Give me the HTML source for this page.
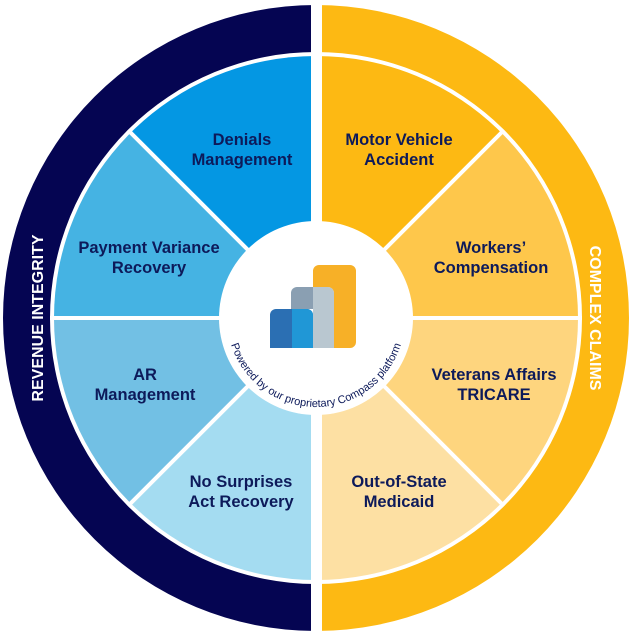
<!DOCTYPE html>
<html><head><meta charset="utf-8"><style>html,body{margin:0;padding:0;background:#fff}svg{display:block}</style></head><body>
<svg width="632" height="635" viewBox="0 0 632 635" xmlns="http://www.w3.org/2000/svg" font-family="Liberation Sans, Arial, sans-serif">
<rect width="632" height="635" fill="#fff"/>
<path d="M316,5 A313,313 0 0 0 316,631 L316,584 A266,266 0 0 1 316,52 Z" fill="#050552"/>
<path d="M316,5 A313,313 0 0 1 316,631 L316,584 A266,266 0 0 0 316,52 Z" fill="#fdb913"/>
<path d="M316,318 L316,56 A262,262 0 0 0 130.7,132.7 Z" fill="#0497e3"/>
<path d="M316,318 L130.7,132.7 A262,262 0 0 0 54,318 Z" fill="#45b3e3"/>
<path d="M316,318 L54,318 A262,262 0 0 0 130.7,503.3 Z" fill="#72c0e4"/>
<path d="M316,318 L130.7,503.3 A262,262 0 0 0 316,580 Z" fill="#a4dcf1"/>
<path d="M316,318 L316,56 A262,262 0 0 1 501.3,132.7 Z" fill="#fdb913"/>
<path d="M316,318 L501.3,132.7 A262,262 0 0 1 578,318 Z" fill="#fec74b"/>
<path d="M316,318 L578,318 A262,262 0 0 1 501.3,503.3 Z" fill="#fed57e"/>
<path d="M316,318 L501.3,503.3 A262,262 0 0 1 316,580 Z" fill="#fde0a3"/>
<rect x="311" y="0" width="11" height="635" fill="#fff"/>
<rect x="50" y="316" width="532" height="4" fill="#fff"/>
<line x1="128" y1="130" x2="504" y2="506" stroke="#fff" stroke-width="4"/>
<line x1="504" y1="130" x2="128" y2="506" stroke="#fff" stroke-width="4"/>
<circle cx="316" cy="318" r="97" fill="#fff"/>
<path d="M270,348 V315 a6,6 0 0 1 6,-6 H307 a6,6 0 0 1 6,6 V348 Z" fill="#2b6fb3"/>
<path d="M292,348 V309 H307 a6,6 0 0 1 6,6 V348 Z" fill="#2097d6"/>
<path d="M291,309 V293 a6,6 0 0 1 6,-6 H313 V309 Z" fill="#8a9fb2"/>
<path d="M313,348 V287 H328 a6,6 0 0 1 6,6 V348 Z" fill="#b9c7d0"/>
<path d="M313,287 V271 a6,6 0 0 1 6,-6 H350 a6,6 0 0 1 6,6 V342 a6,6 0 0 1 -6,6 H334 V293 a6,6 0 0 0 -6,-6 Z" fill="#f7b027"/>
<defs><path id="arc" d="M227,318 A89,89 0 0 0 405,318"/></defs>
<text font-size="11" fill="#0d1a5a"><textPath href="#arc" startOffset="50%" text-anchor="middle">Powered by our proprietary Compass platform</textPath></text>
<g fill="#0d1a5a" font-size="16.5" font-weight="bold" text-anchor="middle">
<text x="242" y="145">Denials</text><text x="242" y="165">Management</text>
<text x="149" y="253">Payment Variance</text><text x="149" y="273">Recovery</text>
<text x="145" y="380">AR</text><text x="145" y="400">Management</text>
<text x="241" y="487">No Surprises</text><text x="241" y="507">Act Recovery</text>
<text x="399" y="145">Motor Vehicle</text><text x="399" y="165">Accident</text>
<text x="491" y="253">Workers’</text><text x="491" y="273">Compensation</text>
<text x="494" y="380">Veterans Affairs</text><text x="494" y="400">TRICARE</text>
<text x="399" y="487">Out-of-State</text><text x="399" y="507">Medicaid</text>
</g>
<g fill="#fff" font-size="16" font-weight="bold" text-anchor="middle">
<text transform="translate(43,318) rotate(-90)">REVENUE INTEGRITY</text>
<text transform="translate(590,318) rotate(90)">COMPLEX CLAIMS</text>
</g>
</svg>
</body></html>
